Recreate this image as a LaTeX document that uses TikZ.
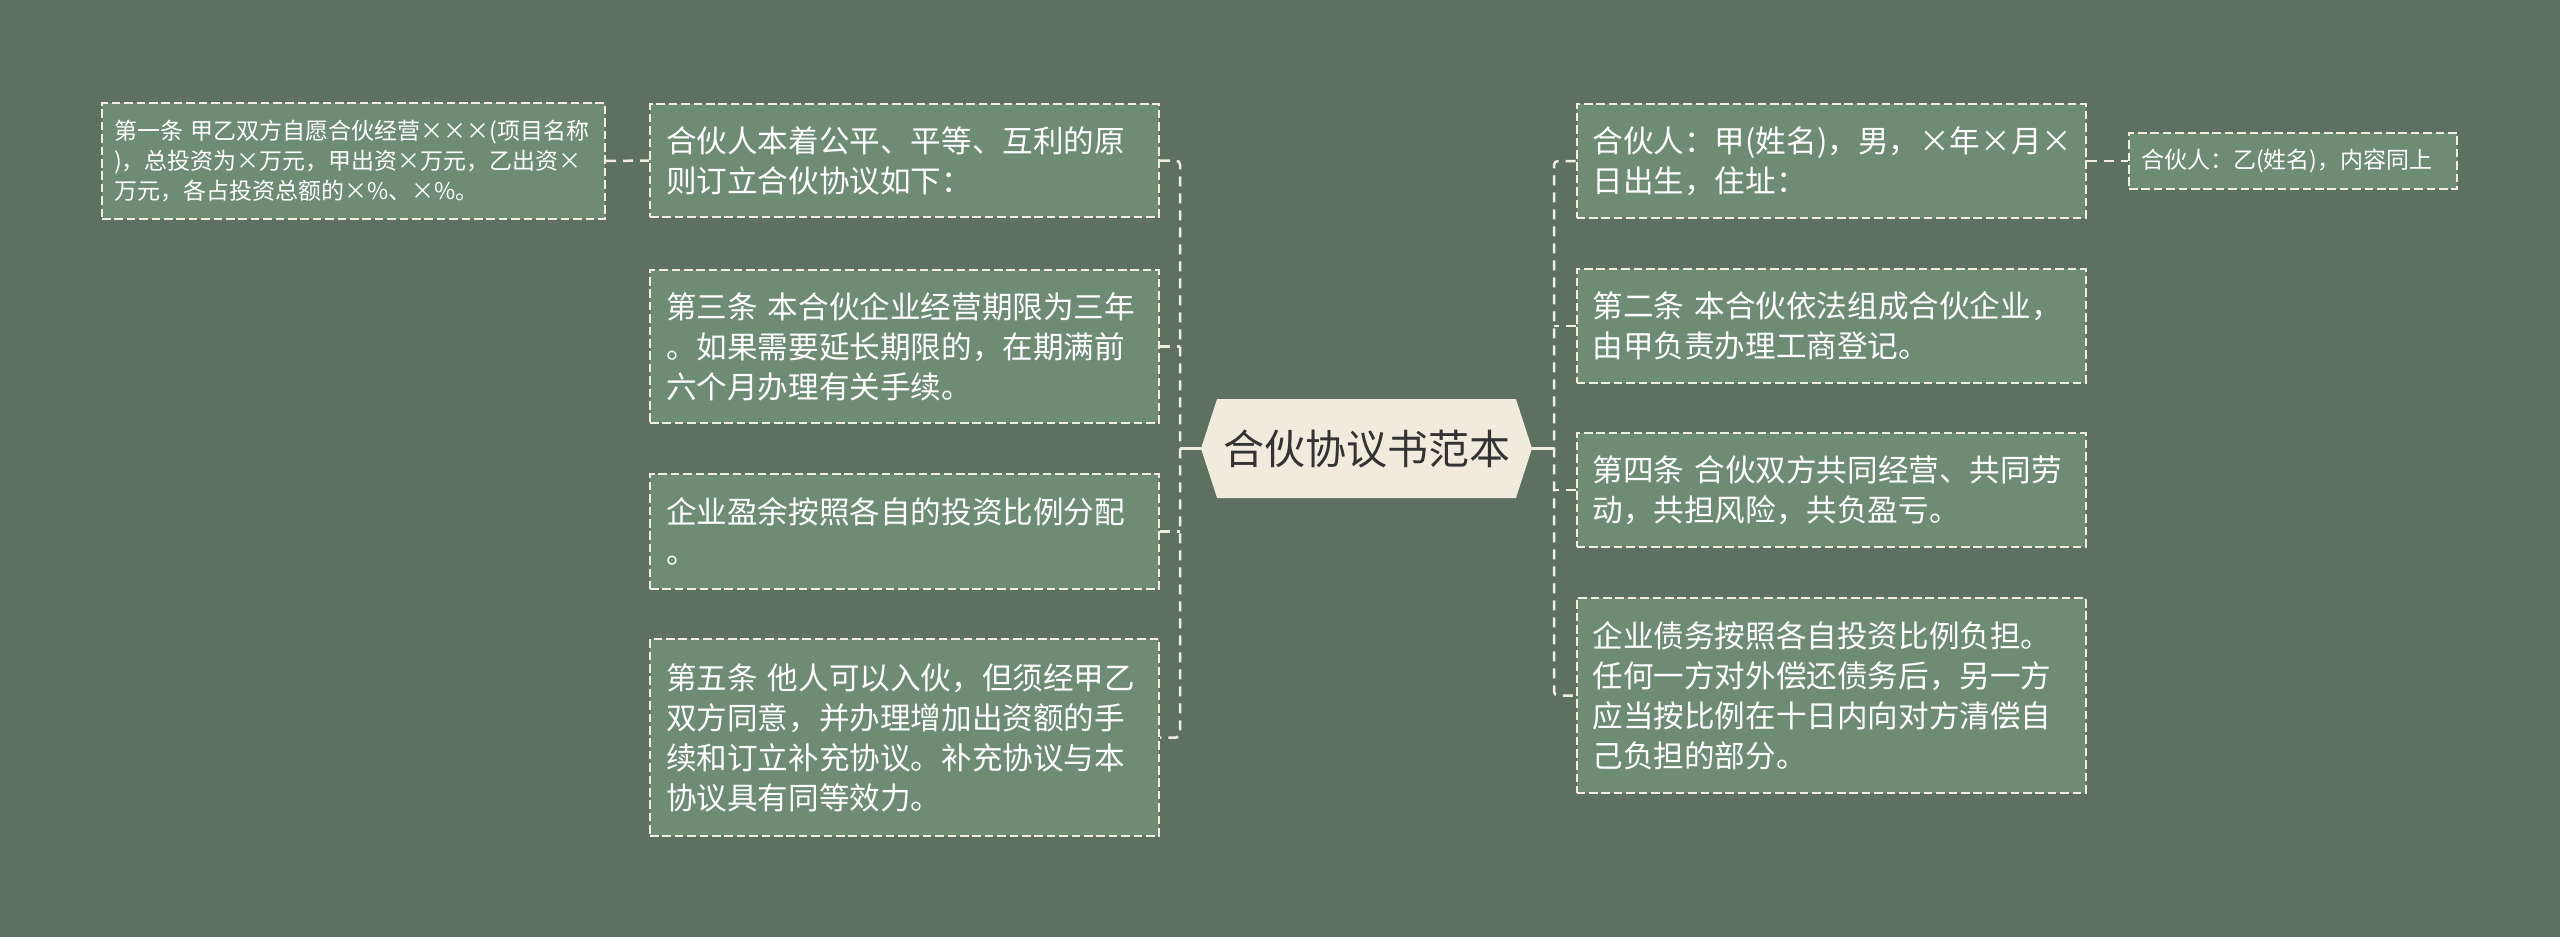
\documentclass[tikz,border=0pt]{standalone}
\usepackage{fontspec}
\setmainfont{Noto Sans CJK SC}
\usetikzlibrary{shapes.symbols,calc}

\definecolor{bgcol}{HTML}{5E7060}
\definecolor{cardfill}{HTML}{6E8B74}
\definecolor{edgecol}{HTML}{F2EEDF}
\definecolor{rootfill}{HTML}{F0EBDC}
\definecolor{roottext}{HTML}{333333}

\begin{document}
\begin{tikzpicture}[
    x=0.5pt, y=-0.5pt,
    card/.style={draw=edgecol, fill=cardfill, line width=1pt, dash pattern=on 4.3pt off 1.9pt,
        text=white, align=left, inner xsep=8pt, inner ysep=0pt, text width=238.5pt,
        font=\fontsize{15.3pt}{20pt}\selectfont},
    smallcard/.style={card, inner xsep=6pt, font=\fontsize{11.5pt}{15pt}\selectfont},
    root/.style={shape=signal, signal to=east and west, signal pointer angle=144,
        fill=rootfill, text=roottext, minimum width=165.5pt, minimum height=49.5pt,
        inner sep=0pt, font=\fontsize{20.5pt}{24pt}\selectfont},
    link/.style={draw=edgecol, line width=1.25pt, dash pattern=on 5pt off 3.5pt, rounded corners=2pt},
    trunk/.style={draw=edgecol, line width=1.25pt}
]
    % Background
    \fill[bgcol] (0,0) rectangle (2560,937);
    \useasboundingbox (0,0) rectangle (2560,937);

    % Root
    \node[root] (root) at (1366.5,448.5) {合伙协议书范本};
    \coordinate (hubL) at (1180,448.5);
    \coordinate (hubR) at (1554,448.5);

    % Left branch
    \node[card, minimum height=56.5pt] (m1) at (904.5,160.5)
        {合伙人本着公平、平等、互利的原\\则订立合伙协议如下：};
    \node[card, minimum height=76.5pt] (m2) at (904.5,346.5)
        {第三条~本合伙企业经营期限为三年\\。如果需要延长期限的，在期满前\\六个月办理有关手续。};
    \node[card, minimum height=57.5pt] (m3) at (904.5,531.5)
        {企业盈余按照各自的投资比例分配\\。};
    \node[card, minimum height=98.5pt] (m4) at (904.5,737.5)
        {第五条~他人可以入伙，但须经甲乙\\双方同意，并办理增加出资额的手\\续和订立补充协议。补充协议与本\\协议具有同等效力。};
    \node[smallcard, text width=239.5pt, minimum height=58pt] (m1a) at (353.5,161)
        {第一条~甲乙双方自愿合伙经营×××(项目名称\\)，总投资为×万元，甲出资×万元，乙出资×\\万元，各占投资总额的×\%、×\%。};

    % Right branch
    \node[card, minimum height=57pt] (r1) at (1831,161)
        {合伙人：甲(姓名)，男，×年×月×\\日出生，住址：};
    \node[card, minimum height=57pt] (r2) at (1831,326)
        {第二条~本合伙依法组成合伙企业，\\由甲负责办理工商登记。};
    \node[card, minimum height=57pt] (r3) at (1831,490)
        {第四条~合伙双方共同经营、共同劳\\动，共担风险，共负盈亏。};
    \node[card, minimum height=97.5pt] (r4) at (1831,695.5)
        {企业债务按照各自投资比例负担。\\任何一方对外偿还债务后，另一方\\应当按比例在十日内向对方清偿自\\己负担的部分。};
    \node[smallcard, text width=152pt, minimum height=28pt] (r1a) at (2293,161)
        {合伙人：乙(姓名)，内容同上};

    % Connections
    \draw[trunk] (root.west) -- (hubL);
    \draw[trunk] (root.east) -- (hubR);
    \draw[link] (m1.east) -| (hubL) |- (m4.east);
    \draw[link] (r1.west) -| (hubR) |- (r4.west);
    \foreach \n in {m2,m3} {
        \draw[link] (\n.east) -- (\n.east -| hubL);
    }
    \foreach \n in {r2,r3} {
        \draw[link] (\n.west) -- (\n.west -| hubR);
    }
    \draw[link] (m1a.east) -- (m1.west);
    \draw[link] (r1.east) -- (r1a.west);
\end{tikzpicture}
\end{document}
